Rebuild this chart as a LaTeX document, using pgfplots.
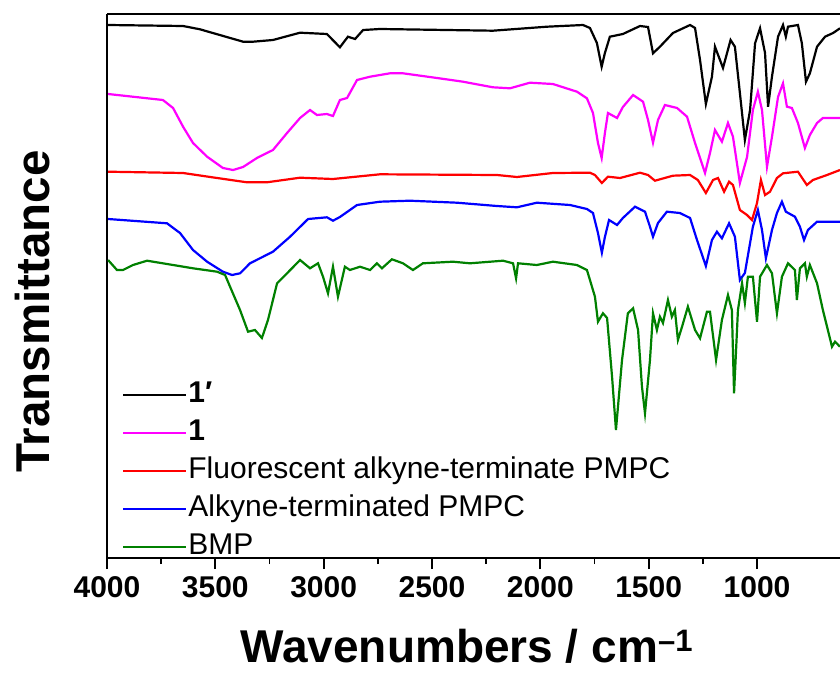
\documentclass[border=0pt]{standalone}
\usepackage{pgfplots}
\pgfplotsset{compat=1.18}
\usepackage{fontspec}
\setmainfont{Liberation Sans}
\definecolor{cgreen}{RGB}{0,128,0}
\definecolor{cmag}{RGB}{255,0,255}
\definecolor{cred}{RGB}{255,0,0}
\definecolor{cblue}{RGB}{0,0,255}
\begin{document}
\begin{tikzpicture}
\useasboundingbox (-107pt,-115pt) rectangle (733pt,558pt);
\begin{axis}[
  at={(0pt,0pt)}, anchor=south west,
  scale only axis, width=733pt, height=544pt,
  xmin=617, xmax=4000, x dir=reverse,
  ymin=42, ymax=586,
  axis x line*=box, axis y line*=left,
  axis line style={-, line width=2.2pt},
  xtick={1000,1500,2000,2500,3000,3500,4000},
  minor x tick num=1,
  xtick pos=bottom,
  ytick=\empty,
  tick align=outside,
  major tick length=11pt, minor tick length=6pt,
  every tick/.style={black, line width=1.8pt},
  /pgf/number format/assume math mode=true,
  /pgf/number format/set thousands separator={},
  ticklabel style={font=\fontsize{30}{30}\selectfont\bfseries},
  xticklabel style={yshift=-4pt},
  xlabel={Wavenumbers / cm\raisebox{11pt}{\fontsize{31}{31}\selectfont\bfseries –1}},
  xlabel style={font=\fontsize{46}{46}\selectfont\bfseries, at={(axis description cs:0.4905,-0.193)}, anchor=base},
  ylabel={Transmittance},
  ylabel style={font=\fontsize{47.5}{47.5}\selectfont\bfseries, at={(axis description cs:-0.1016,0.453)}, anchor=center, rotate=0},
  legend cell align=left,
  legend image code/.code={\draw[#1] (0pt,0pt) -- (63pt,0pt);},
  legend style={at={(axis description cs:0.0205,-0.0086)}, anchor=south west, draw=none, fill=none,
    font=\fontsize{30}{30}\selectfont, inner sep=0pt,
    nodes={inner sep=1pt, text height=22pt, text depth=7pt}, row sep=7pt},
]
\addplot[black, line width=2.2pt] coordinates {(3995,575)(3649,574)(3571,570.7)(3372,558.3)(3326,558.3)(3234,560)(3109,567.3)(2985,566)(2925,552.7)(2888,563.3)(2855,561)(2818,570)(2740,571)(2219,569.3)(1969,573.3)(1803,575)(1771,572)(1739,557)(1717,533.3)(1702,547)(1679,563.3)(1619,566)(1540,574)(1503,573)(1480,546.7)(1448,553.3)(1388,567)(1309,575)(1286,572)(1263,540)(1236,496)(1208,523.3)(1194,553.3)(1157,532)(1122,560)(1102,553.3)(1079,507)(1056,460)(1032,490)(1009,556.7)(986,571.7)(963,547)(949,493.3)(931,523.3)(903,563.3)(880,575)(867,563.3)(857,573.3)(811,575)(793,556.7)(774,518.3)(756,526.7)(723,553.3)(686,563.3)(649,567)(617,571.7)};
\addlegendentry{\textbf{1′}}
\addplot[cmag, line width=2.2pt] coordinates {(3995,506)(3742,500)(3695,492)(3649,473.3)(3603,457)(3538,443.3)(3465,432)(3418,430)(3372,433)(3308,442)(3234,450)(3169,467)(3109,482)(3063,490)(3031,485)(2985,486)(2957,484)(2925,500)(2892,502)(2846,520)(2786,523.3)(2740,525)(2694,526.7)(2634,526.7)(2477,522)(2357,518.3)(2219,512.7)(2140,511.7)(2048,517.3)(1942,516)(1831,508.3)(1785,501.7)(1757,487)(1734,457)(1717,442)(1702,467)(1688,487)(1646,482)(1619,493)(1572,505)(1526,498.3)(1503,480)(1480,457.3)(1457,480)(1425,495)(1369,492)(1323,483.3)(1286,457)(1240,427)(1217,447)(1194,470)(1162,458.3)(1134,477)(1111,463.3)(1079,417)(1046,443)(1019,490)(996,508.3)(977,490)(954,433.3)(931,463)(903,503)(880,516.7)(862,493.3)(839,492)(811,477)(779,452)(756,465)(723,477)(696,482)(617,482)};
\addlegendentry{\textbf{1}}
\addplot[cred, line width=2.2pt] coordinates {(3995,428.3)(3649,427)(3492,422)(3354,417.7)(3262,417.7)(3109,422.3)(2957,421)(2740,425.7)(2200,425)(2108,423)(1942,427)(1771,427.3)(1748,425)(1716,417)(1688,423.3)(1632,422)(1540,427.3)(1503,425)(1471,419.3)(1388,424.3)(1309,425)(1273,420)(1236,407)(1203,420)(1180,422)(1152,408.3)(1129,418.3)(1111,415)(1079,390)(1046,385)(1023,380)(1000,397)(982,420)(963,405)(940,408.3)(908,422)(880,426.7)(811,428.3)(770,415)(742,420)(677,425)(617,430)};
\addlegendentry{Fluorescent alkyne-terminate PMPC}
\addplot[cblue, line width=2.2pt] coordinates {(3995,381)(3723,376.7)(3663,367)(3603,350)(3538,338.3)(3465,328.3)(3423,325)(3386,326.7)(3340,336.7)(3234,348.3)(3155,363.3)(3072,381)(2985,382.7)(2957,379.3)(2925,383)(2846,395)(2740,398.3)(2602,399.3)(2385,397.3)(2200,394)(2108,392.7)(2016,397.3)(1863,395)(1785,391)(1757,387)(1734,367)(1716,347.3)(1702,363)(1683,380)(1646,375)(1619,382)(1563,393.3)(1517,388.3)(1494,373.3)(1480,363.3)(1457,377)(1416,388.3)(1356,387)(1309,382)(1277,360)(1236,334)(1208,360)(1185,368.3)(1162,361.7)(1129,376.7)(1102,363.3)(1079,320)(1056,327)(1019,373.3)(996,390)(977,370)(959,341.7)(931,370)(908,387)(885,398.3)(867,388.3)(825,383.3)(802,373.3)(783,360)(765,370)(723,378.3)(617,378.3)};
\addlegendentry{Alkyne-terminated PMPC}
\addplot[cgreen, line width=2.2pt] coordinates {(3995,340)(3954,330)(3926,330)(3880,335)(3815,339.3)(3723,336)(3603,331.7)(3492,328.3)(3455,325)(3432,313.3)(3386,290)(3349,268.3)(3317,270)(3285,262)(3257,280)(3215,316.7)(3169,326.7)(3109,340)(3063,331.7)(3026,336.7)(3003,323.3)(2980,306.7)(2957,333.3)(2934,303.3)(2902,333.3)(2879,330)(2832,333.3)(2786,330)(2754,336.7)(2731,331.7)(2685,340.7)(2634,336.7)(2588,330)(2542,336.7)(2403,338.3)(2325,336.7)(2172,339.3)(2126,336.7)(2112,321.7)(2103,336.7)(2016,335)(1942,338.3)(1831,335)(1785,330)(1771,320)(1748,303.3)(1734,278.3)(1711,286.7)(1692,282)(1669,223.3)(1651,170)(1623,240)(1596,286.7)(1572,291.7)(1549,270)(1531,213.3)(1517,186.7)(1494,240)(1480,286.7)(1462,270)(1448,283.3)(1434,277)(1411,300)(1393,283.3)(1379,290)(1365,260)(1346,273.3)(1319,293.3)(1286,270)(1263,261.7)(1231,288.3)(1217,288.3)(1189,240)(1162,280)(1134,305)(1116,290)(1106,206.7)(1088,290)(1069,316.7)(1056,297)(1042,323.3)(1019,323.3)(1000,278.3)(986,323.3)(954,335)(931,326.7)(908,286.7)(885,323.3)(857,336.7)(825,330)(816,300)(802,331.7)(779,336.7)(770,323.3)(756,335)(723,316.7)(696,290)(673,270)(654,253.3)(640,258.3)(617,253.3)};
\addlegendentry{BMP}
\end{axis}
\end{tikzpicture}
\end{document}
